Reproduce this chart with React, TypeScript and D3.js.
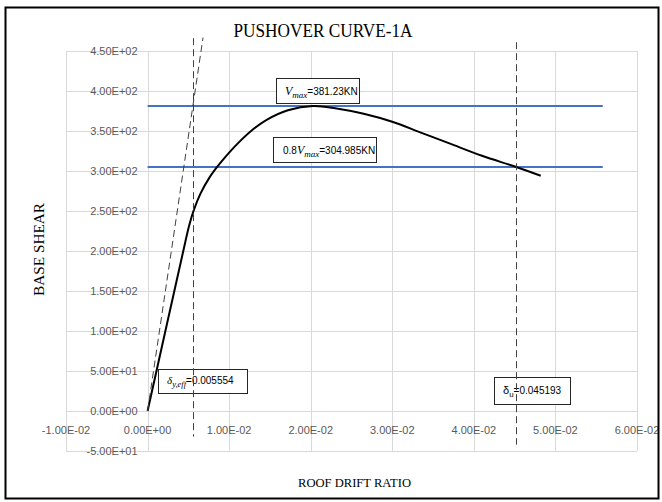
import React from "react";
import * as d3 from "d3";

// Pushover response: roof drift ratio vs base shear (kN)
const drift = [0, 0.0044, 0.0051, 0.0057, 0.0065, 0.0076, 0.0086, 0.01, 0.0114, 0.0128, 0.0146, 0.0172, 0.0203, 0.023, 0.0265, 0.03, 0.0335, 0.037, 0.041, 0.0452, 0.0482];
const shear = [0, 201, 232, 252, 272, 292, 306, 323, 338, 351, 364, 376, 381.23, 378.5, 371.5, 361.5, 348, 334.5, 319, 305, 294];

const vMax = 381.23;
const vLimit = 304.985;
const deltaYEff = 0.005554;
const deltaU = 0.045193;
const refLineEnd = 0.0558;

// effective-stiffness secant line (through origin and the Vmax / δy,eff point)
const secantDrift = [0, 0.0068];
// extents of the vertical markers (base shear)
const yEffSpan = [-32, 466];
const uSpan = [-42, 461];

const xTicks = [-0.01, 0, 0.01, 0.02, 0.03, 0.04, 0.05, 0.06];
const yTicks = [-50, 0, 50, 100, 150, 200, 250, 300, 350, 400, 450];

const fmt = (v: number) => {
  const [m, e] = v.toExponential(2).split("e");
  const sign = e[0];
  const digits = e.slice(1).padStart(2, "0");
  return `${m}E${sign}${digits}`;
};

const W = 662;
const H = 502;
const tickFont = "'Liberation Sans Narrow', 'Liberation Sans', Arial, sans-serif";
const serif = "'Liberation Serif', 'Times New Roman', serif";

export default function App() {
  const x = d3.scaleLinear().domain([-0.01, 0.06]).range([66, 637]);
  const y = d3.scaleLinear().domain([-50, 450]).range([451, 51]);

  const curve = d3
    .line<number>()
    .x((_, i) => x(drift[i]))
    .y((d) => y(d))
    .curve(d3.curveCatmullRom.alpha(0.5))(shear) as string;

  const K = vMax / deltaYEff;
  const x0 = x(0);
  const y0 = y(0);

  const box = (bx: number, by: number, bw: number, bh: number) => (
    <rect x={bx + 0.5} y={by + 0.5} width={bw} height={bh} fill="#fff" stroke="#262626" strokeWidth={1} />
  );

  return (
    <svg width={W} height={H} style={{ position: "absolute", left: 0, top: 0, background: "#fff" }}>
      <rect x={0} y={0} width={W} height={H} fill="#fff" />
      {/* gridlines */}
      {yTicks.map((t) => (
        <line key={"h" + t} x1={x(-0.01)} x2={x(0.06)} y1={Math.round(y(t)) + 0.5} y2={Math.round(y(t)) + 0.5} stroke="#d9d9d9" strokeWidth={1} />
      ))}
      {xTicks.map((t) => (
        <line key={"v" + t} x1={Math.round(x(t)) + 0.5} x2={Math.round(x(t)) + 0.5} y1={y(450)} y2={y(-50)} stroke="#d9d9d9" strokeWidth={1} />
      ))}

      {/* tick labels */}
      {yTicks.map((t) => (
        <text key={"yl" + t} x={x0 - 10} y={y(t) + 4} textAnchor="end" fontSize={11} fontFamily={tickFont} fill="#595959">
          {fmt(t)}
        </text>
      ))}
      {xTicks.map((t) => (
        <text key={"xl" + t} x={x(t)} y={y0 + 23} textAnchor="middle" fontSize={11} fontFamily={tickFont} fill="#595959">
          {fmt(t)}
        </text>
      ))}

      {/* reference shear levels */}
      <line x1={x(0)} x2={x(refLineEnd)} y1={y(vMax)} y2={y(vMax)} stroke="#4472c4" strokeWidth={2} />
      <line x1={x(0)} x2={x(refLineEnd)} y1={y(vLimit)} y2={y(vLimit)} stroke="#4472c4" strokeWidth={2} />

      {/* capacity curve */}
      <path d={curve} fill="none" stroke="#000" strokeWidth={2} strokeLinejoin="round" />

      {/* annotation boxes */}
      {box(276, 78, 83, 25)}
      <text x={285} y={95} fontSize={10} fontFamily={tickFont} fill="#000">
        <tspan fontFamily={serif} fontStyle="italic" fontSize={12}>V</tspan>
        <tspan fontFamily={serif} fontStyle="italic" fontSize={9} dy={2.5}>max</tspan>
        <tspan dy={-2.5}>{`=${vMax}KN`}</tspan>
      </text>
      {box(273, 137, 103, 25)}
      <text x={283} y={154} fontSize={10} fontFamily={tickFont} fill="#000">
        <tspan>0.8</tspan>
        <tspan fontFamily={serif} fontStyle="italic" fontSize={12}>V</tspan>
        <tspan fontFamily={serif} fontStyle="italic" fontSize={9} dy={2.5}>max</tspan>
        <tspan dy={-2.5}>{`=${vLimit}KN`}</tspan>
      </text>
      {box(158, 369, 89, 24)}
      <text x={167} y={384} fontSize={10} fontFamily={tickFont} fill="#000">
        <tspan fontFamily={serif} fontStyle="italic" fontSize={11}>δ</tspan>
        <tspan fontFamily={serif} fontStyle="italic" fontSize={8.5} dy={2.5}>y,eff</tspan>
        <tspan dy={-2.5}>{`=${deltaYEff}`}</tspan>
      </text>
      {box(494, 377, 76, 27)}
      <text x={503} y={394} fontSize={10} fontFamily={tickFont} fill="#000">
        <tspan fontSize={11}>δ</tspan>
        <tspan fontSize={8} dy={2.5}>u</tspan>
        <tspan dy={-2.5}>{`=${deltaU}`}</tspan>
      </text>

      {/* dashed construction lines */}
      <line x1={x(secantDrift[0])} y1={y(K * secantDrift[0])} x2={x(secantDrift[1])} y2={y(K * secantDrift[1])} stroke="#404040" strokeWidth={1} strokeDasharray="7,4" />
      <line x1={Math.round(x(deltaYEff)) + 0.5} x2={Math.round(x(deltaYEff)) + 0.5} y1={y(yEffSpan[1])} y2={y(yEffSpan[0])} stroke="#404040" strokeWidth={1} strokeDasharray="7,4" />
      <line x1={Math.round(x(deltaU)) + 0.5} x2={Math.round(x(deltaU)) + 0.5} y1={y(uSpan[1])} y2={y(uSpan[0])} stroke="#404040" strokeWidth={1} strokeDasharray="7,4" />

      {/* titles */}
      <text x={323} y={37} textAnchor="middle" fontSize={18} fontFamily={serif} fill="#000" textLength={179} lengthAdjust="spacingAndGlyphs">
        PUSHOVER CURVE-1A
      </text>
      <text transform="translate(44,249.5) rotate(-90)" textAnchor="middle" fontSize={14} fontFamily={serif} fill="#000" textLength={93} lengthAdjust="spacingAndGlyphs">
        BASE SHEAR
      </text>
      <text x={354.5} y={487} textAnchor="middle" fontSize={13} fontFamily={serif} fill="#000" textLength={113} lengthAdjust="spacingAndGlyphs">
        ROOF DRIFT RATIO
      </text>

      {/* outer frame */}
      <rect x={5.5} y={7.5} width={653} height={491} fill="none" stroke="#000" strokeWidth={2} />
    </svg>
  );
}
